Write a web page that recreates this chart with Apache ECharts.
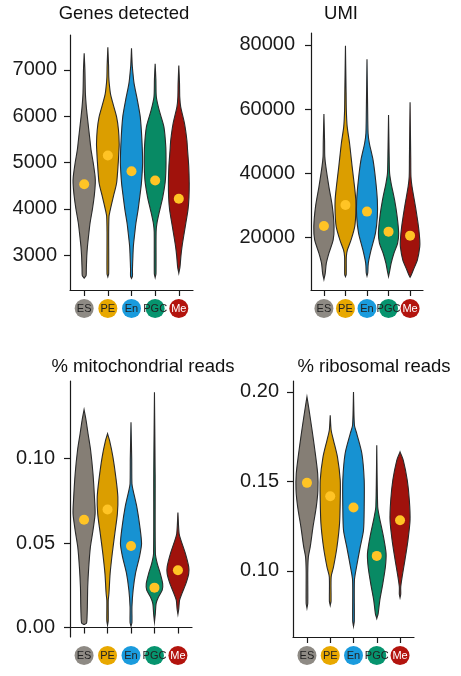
<!DOCTYPE html>
<html>
<head>
<meta charset="utf-8">
<script src="https://cdn.jsdelivr.net/npm/echarts@6/dist/echarts.min.js"></script>
<style>
  html, body { margin: 0; padding: 0; background: #fff; }
  #chart { width: 461px; height: 676px; }
</style>
</head>
<body>
<div id="chart"></div>
<script>
// groups and colours
const groups = ['ES', 'PE', 'En', 'PGC', 'Me'];
const violinColors = ['#857E75', '#DB9E00', '#1792D2', '#088A64', '#A0120C'];
const badgeColors = ['#8E8A84', '#E8A800', '#1A9BDD', '#06946E', '#B3140E'];
const labelText = ['#222', '#222', '#222', '#222', '#fff'];

// violin outlines: [value, half width in category units], top to bottom
const genesViolins = [
  [[7356,0],[7000,0.03],[6500,0.05],[6200,0.09],[6000,0.13],[5500,0.24],[5271,0.29],[5000,0.38],[4700,0.46],[4557,0.47],[4300,0.43],[4000,0.35],[3700,0.25],[3486,0.2],[3200,0.14],[2986,0.11],[2700,0.09],[2560,0.08],[2507,0]],
  [[7484,0],[7100,0.03],[6842,0.04],[6700,0.06],[6486,0.11],[6300,0.2],[5985,0.37],[5700,0.45],[5400,0.48],[5271,0.47],[5000,0.44],[4557,0.37],[4300,0.25],[4129,0.17],[3950,0.09],[3843,0.05],[3500,0.035],[2600,0.035],[2535,0]],
  [[7463,0],[7100,0.03],[6985,0.05],[6700,0.11],[6342,0.25],[5985,0.37],[5485,0.44],[5000,0.47],[4557,0.42],[4300,0.36],[3985,0.28],[3700,0.19],[3486,0.14],[3200,0.08],[2986,0.06],[2700,0.04],[2550,0.04],[2500,0]],
  [[7128,0],[6800,0.03],[6413,0.05],[6128,0.17],[5770,0.37],[5340,0.45],[5000,0.46],[4770,0.45],[4557,0.42],[4250,0.32],[3985,0.2],[3700,0.08],[3500,0.04],[2600,0.035],[2520,0]],
  [[7092,0],[6700,0.03],[6413,0.04],[6199,0.08],[5842,0.24],[5485,0.34],[5271,0.37],[4914,0.42],[4557,0.44],[4250,0.43],[3985,0.39],[3700,0.3],[3486,0.23],[3200,0.14],[2986,0.09],[2750,0.05],[2614,0]]
];
const umiViolins = [
  [[58513,0],[50000,0.03],[45220,0.04],[42100,0.09],[35900,0.23],[29650,0.39],[23430,0.47],[19280,0.43],[15130,0.23],[12010,0.11],[8900,0.06],[7000,0]],
  [[79690,0],[65000,0.03],[59760,0.04],[54570,0.08],[49380,0.19],[42100,0.31],[35900,0.42],[31700,0.48],[27600,0.48],[23430,0.43],[19280,0.26],[16160,0.09],[14000,0.04],[8500,0.035],[7860,0]],
  [[75540,0],[60000,0.03],[52500,0.05],[49380,0.11],[44190,0.28],[37960,0.4],[31700,0.48],[26540,0.48],[21350,0.39],[16160,0.19],[12010,0.06],[9000,0.035],[8070,0]],
  [[58200,0],[45000,0.03],[40000,0.05],[36920,0.12],[31730,0.28],[26540,0.4],[21350,0.47],[18240,0.42],[15130,0.25],[12010,0.12],[9500,0.05],[7860,0]],
  [[62150,0],[45000,0.03],[39000,0.04],[35900,0.09],[29650,0.25],[23430,0.39],[19280,0.45],[17200,0.45],[13050,0.34],[9940,0.15],[8300,0.05],[7650,0]]
];
const mitoViolins = [
  [[0.1289,0],[0.1226,0.085],[0.1147,0.17],[0.1048,0.28],[0.091,0.38],[0.0753,0.45],[0.0674,0.47],[0.0575,0.38],[0.0477,0.27],[0.0359,0.2],[0.024,0.155],[0.0122,0.14],[0.0043,0.12],[0.0025,0.1],[0.0018,0]],
  [[0.1147,0],[0.1107,0.085],[0.1009,0.23],[0.0871,0.37],[0.0772,0.44],[0.0674,0.42],[0.0556,0.31],[0.0437,0.2],[0.0319,0.11],[0.0201,0.06],[0.016,0.03],[0.004,0.03],[0.0014,0]],
  [[0.1215,0],[0.1,0.03],[0.0851,0.04],[0.0812,0.09],[0.0713,0.25],[0.0595,0.38],[0.0496,0.45],[0.0418,0.36],[0.0319,0.19],[0.0221,0.09],[0.0122,0.04],[0.003,0.04],[0.0008,0]],
  [[0.1393,0],[0.09,0.03],[0.0437,0.04],[0.0378,0.12],[0.0319,0.25],[0.026,0.35],[0.0221,0.33],[0.0181,0.17],[0.0142,0.07],[0.008,0.035],[0.0033,0]],
  [[0.068,0],[0.0556,0.05],[0.0516,0.13],[0.0437,0.32],[0.0359,0.46],[0.0319,0.46],[0.026,0.34],[0.0201,0.17],[0.0162,0.07],[0.011,0.035],[0.0079,0]]
];
const riboViolins = [
  [[0.1972,0],[0.1916,0.07],[0.1804,0.2],[0.1674,0.34],[0.1544,0.46],[0.1451,0.47],[0.1358,0.4],[0.1246,0.26],[0.1134,0.14],[0.1078,0.06],[0.1,0.035],[0.082,0.035],[0.0793,0]],
  [[0.187,0],[0.1786,0.04],[0.173,0.14],[0.1637,0.31],[0.1507,0.43],[0.1395,0.43],[0.1265,0.4],[0.1134,0.29],[0.1022,0.14],[0.0967,0.04],[0.083,0.035],[0.0808,0]],
  [[0.2,0],[0.1814,0.04],[0.1767,0.14],[0.1656,0.36],[0.1507,0.46],[0.1358,0.46],[0.1227,0.43],[0.1134,0.29],[0.1022,0.13],[0.0948,0.04],[0.072,0.035],[0.0691,0]],
  [[0.1702,0],[0.1358,0.04],[0.1302,0.11],[0.119,0.29],[0.1097,0.4],[0.1022,0.37],[0.0929,0.26],[0.0836,0.13],[0.0762,0.06],[0.0734,0]],
  [[0.1665,0],[0.1618,0.14],[0.1507,0.31],[0.1395,0.4],[0.1283,0.43],[0.1171,0.34],[0.106,0.21],[0.0967,0.09],[0.0911,0.03],[0.087,0.03],[0.0851,0]]
];

// group means (yellow dots)
const genesMean = [4530, 5150, 4810, 4610, 4220];
const umiMean = [23640, 30180, 28100, 21870, 20620];
const mitoMean = [0.0638, 0.0699, 0.0483, 0.0236, 0.0339];
const riboMean = [0.1492, 0.1417, 0.1354, 0.1084, 0.1283];

// tick labels
const genesTicks = [3000, 4000, 5000, 6000, 7000];
const umiTicks = [20000, 40000, 60000, 80000];
const mitoTicks = [0, 0.05, 0.1];
const riboTicks = [0.1, 0.15, 0.2];

const FONT = "'Liberation Sans', Arial, Helvetica, sans-serif";

const panels = [
  { title: 'Genes detected', tx: 124, ty: 14, grid: {left: 70, top: 35, width: 123, height: 255}, min: 2250, max: 7750, ticks: genesTicks, violins: genesViolins, means: genesMean, dec: 0, margin: 13 },
  { title: 'UMI', tx: 341, ty: 14, grid: {left: 311, top: 33, width: 112, height: 257}, min: 3700, max: 83700, ticks: umiTicks, violins: umiViolins, means: umiMean, dec: 0, margin: 16 },
  { title: '% mitochondrial reads', tx: 143, ty: 367, grid: {left: 70, top: 381, width: 122, height: 256}, min: -0.0056, max: 0.1459, ticks: mitoTicks, violins: mitoViolins, means: mitoMean, dec: 2, margin: 15 },
  { title: '% ribosomal reads', tx: 374, ty: 367, grid: {left: 293, top: 381, width: 121, height: 256}, min: 0.0631, max: 0.2061, ticks: riboTicks, violins: riboViolins, means: riboMean, dec: 2, margin: 14 }
];

const richLabels = {};
groups.forEach(function (g, i) {
  richLabels['c' + i] = {
    backgroundColor: badgeColors[i],
    color: labelText[i],
    width: 19,
    height: 19,
    lineHeight: 19,
    borderRadius: 9.5,
    align: 'center',
    fontSize: 11,
    fontFamily: FONT
  };
});

const chart = echarts.init(document.getElementById('chart'), null, {renderer: 'canvas'});

const option = {
  animation: false,
  backgroundColor: '#fff',
  grid: [],
  xAxis: [],
  yAxis: [],
  series: [],
  graphic: []
};

panels.forEach(function (p, k) {
  option.grid.push(Object.assign({containLabel: false}, p.grid));
  option.xAxis.push({
    type: 'value', gridIndex: k, min: 0.4, max: 5.6,
    axisLine: {show: true, lineStyle: {color: '#1a1a1a', width: 1.2}},
    axisTick: {show: true, customValues: [1, 2, 3, 4, 5], length: 6, lineStyle: {color: '#1a1a1a', width: 1.2}},
    axisLabel: {
      show: true, customValues: [1, 2, 3, 4, 5], margin: 9,
      formatter: function (v) { const i = Math.round(v) - 1; return '{c' + i + '|' + groups[i] + '}'; },
      rich: richLabels
    },
    splitLine: {show: false}
  });
  option.yAxis.push({
    type: 'value', gridIndex: k, min: p.min, max: p.max,
    axisLine: {show: true, lineStyle: {color: '#1a1a1a', width: 1.2}},
    axisTick: {show: true, customValues: p.ticks, length: 6, lineStyle: {color: '#1a1a1a', width: 1.2}},
    axisLabel: {
      show: true, customValues: p.ticks, margin: p.margin,
      fontSize: 20, fontFamily: FONT, color: '#1a1a1a',
      formatter: function (v) { return p.dec ? v.toFixed(p.dec) : String(Math.round(v)); }
    },
    splitLine: {show: false}
  });
  // violins
  option.series.push({
    type: 'custom', xAxisIndex: k, yAxisIndex: k,
    data: groups.map(function (g, i) { return [i + 1, p.means[i]]; }),
    renderItem: function (params, api) {
      const prof = p.violins[params.dataIndex];
      const cx = api.value(0);
      const pts = [];
      prof.forEach(function (d) { pts.push(api.coord([cx + d[1], d[0]])); });
      for (let j = prof.length - 1; j >= 0; j--) pts.push(api.coord([cx - prof[j][1], prof[j][0]]));
      return {
        type: 'polygon',
        shape: {points: pts, smooth: 0.25},
        style: {fill: violinColors[params.dataIndex], stroke: '#2a2a2a', lineWidth: 1.1}
      };
    },
    z: 2
  });
  // means
  option.series.push({
    type: 'scatter', xAxisIndex: k, yAxisIndex: k,
    data: groups.map(function (g, i) { return [i + 1, p.means[i]]; }),
    symbol: 'circle', symbolSize: 10,
    itemStyle: {color: '#FFC425', opacity: 1},
    z: 3
  });
  option.graphic.push({
    type: 'text', x: p.tx, y: p.ty,
    style: {text: p.title, font: '18.5px ' + FONT, fill: '#111', align: 'center', verticalAlign: 'middle'}
  });
});

chart.setOption(option);
</script>
</body>
</html>
